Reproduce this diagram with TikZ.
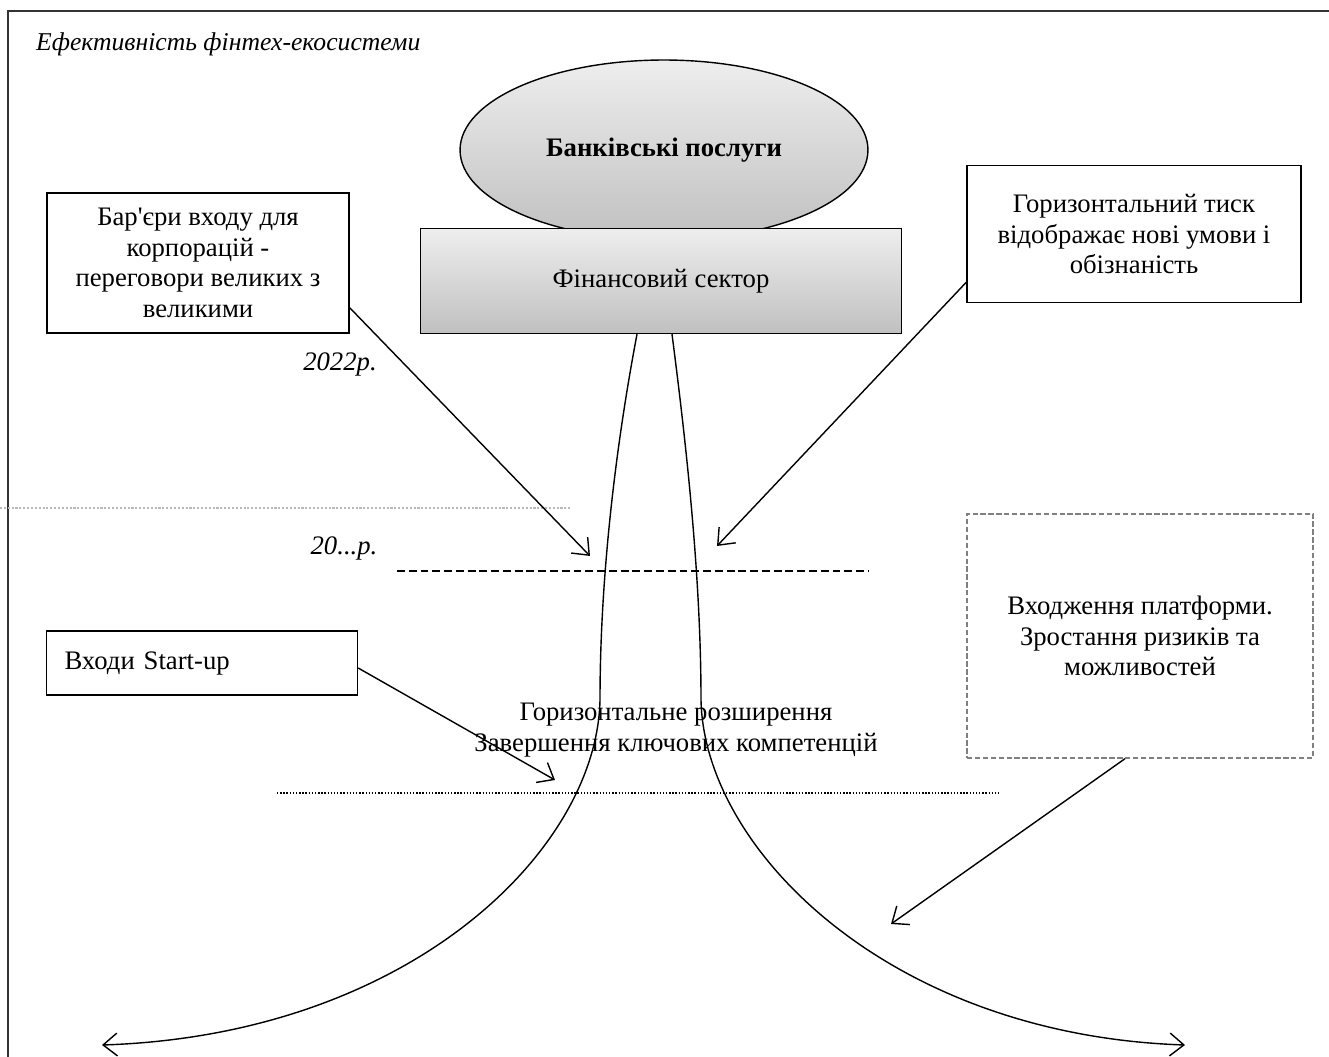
\documentclass[tikz,border=0pt]{standalone}
\usepackage{fontspec}
\setmainfont{Liberation Serif}[Ligatures=TeXOff]
\usepackage{tikz}
\usetikzlibrary{arrows.meta,shapes.geometric}
\definecolor{shadetop}{RGB}{238,238,238}
\definecolor{shadebot}{RGB}{192,192,192}
\tikzset{txtbox/.style={draw, line width=0.8pt, align=center, inner sep=0pt},
         barb/.style={-{Straight Barb[length=8pt,width=13pt]}, line width=0.8pt},
         grayfill/.style={draw, line width=0.8pt, top color=shadetop, bottom color=shadebot}}

\begin{document}
\begin{tikzpicture}[x=0.02cm, y=-0.02cm, font=\fontsize{15.2}{17.5}\selectfont]
\useasboundingbox (0,0) rectangle (1329,1057);
\draw [line width=1pt, black!80] (8,1057) -- (8,11) -- (1329,11);
\node [anchor=west, font=\fontsize{14.6}{17.5}\selectfont\itshape] (title) at (30,44) {Ефективність фінтех-екосистеми};

\node [grayfill, ellipse, minimum width=8.16cm, minimum height=3.6cm, font=\fontsize{15.2}{17.5}\selectfont\bfseries] (bank) at (664,150) {Банківські послуги};
\node [grayfill, minimum width=9.62cm, minimum height=2.1cm] (sector) at (661,281) {Фінансовий сектор};

\node [txtbox, minimum width=6.04cm, minimum height=2.8cm] (barrier) at (198,263) {Бар'єри входу для\\корпорацій -\\переговори великих з\\великими};
\node [txtbox, minimum width=6.68cm, minimum height=2.74cm] (press) at (1134,234) {Горизонтальний тиск\\відображає нові умови і\\обізнаність};
\node [draw, line width=0.8pt, text width=5.5cm, align=left, inner xsep=0.36cm, minimum height=1.28cm] (startup) at (202,663) {Входи Start-up};
\node [txtbox, draw=gray, dash pattern=on 3pt off 1.5pt, minimum width=6.92cm, minimum height=4.88cm] (platform) at (1140,636) {Входження платформи.\\Зростання ризиків та\\можливостей};

\node [font=\fontsize{15.2}{17.5}\selectfont\itshape] (y2022) at (340,364) {2022р.};
\node [font=\fontsize{15.2}{17.5}\selectfont\itshape] (yfut) at (344,548) {20...р.};
\node [align=center] (expand) at (676,730) {Горизонтальне розширення\\Завершення ключових компетенцій};

\draw [gray!55, line width=1.2pt, densely dotted] (0,508) -- (570,508);
\draw [line width=0.8pt, dash pattern=on 4.5pt off 2.2pt] (397,571) -- (868,571);
\draw [line width=0.8pt, densely dotted] (277,793) -- (1000,793);

% curves
\coordinate (leftend) at (102,1045);
\coordinate (rightend) at (1185,1045);
\draw [barb] ([xshift=-0.48cm]sector.south) .. controls (615,450) and (600,580) .. (600,700)
  .. controls (597,850) and (410,1035) .. (leftend);
\draw [barb] ([xshift=0.22cm]sector.south) .. controls (687,450) and (701,580) .. (701,700)
  .. controls (704,850) and (890,1035) .. (rightend);

\coordinate (bartip) at (590,556);
\coordinate (presstip) at (717,546);
\coordinate (starttip) at (555,780);
\coordinate (plattip) at (891,924);
\draw [barb] ([yshift=0.52cm]barrier.south east) -- (bartip);
\draw [barb] ([yshift=0.42cm]press.south west) -- (presstip);
\draw [barb] ([yshift=-0.1cm]startup.east) -- (starttip);
\draw [barb] ([xshift=-0.3cm]platform.south) -- (plattip);
\end{tikzpicture}
\end{document}
